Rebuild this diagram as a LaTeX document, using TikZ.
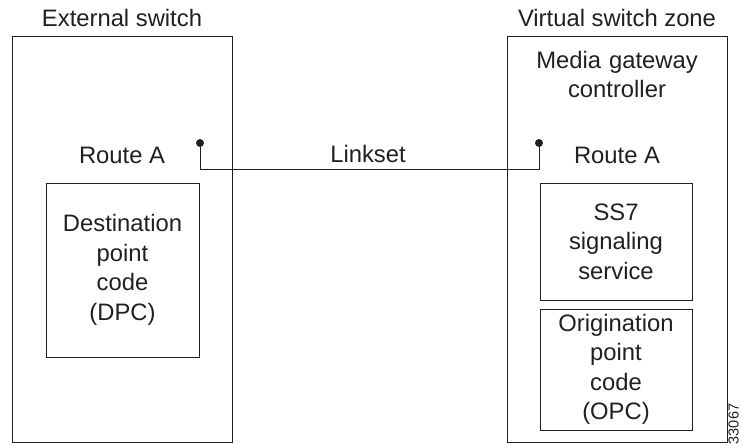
\documentclass[tikz,border=0pt]{standalone}
\usepackage{fontspec}
\setmainfont{Liberation Sans}
\definecolor{ink}{HTML}{231F20}
\begin{document}
\begin{tikzpicture}[x=1pt,y=-1pt,
  box/.style={draw=ink, line width=1pt, inner sep=0pt, outer sep=0pt},
  txt/.style={font=\fontsize{23.8}{29.5}\selectfont, text=ink, align=center},
  lbl/.style={txt, inner sep=0pt, anchor=base},
  pin/.style={circle, fill=ink, inner sep=0pt, minimum size=8pt}]
\useasboundingbox (0,0) rectangle (741,447);
% outer boxes
\node[box, minimum width=220pt, minimum height=406pt] (ext) at (122,239) {};
\node[box, minimum width=220pt, minimum height=406pt] (vsz) at (617,239) {};
% titles
\node[lbl] (extT) at (122,27) {External switch};
\node[lbl] (vszT) at (617,27) {Virtual switch zone};
\node[lbl, text width=200pt] (mgc) at (617,68) {Media gateway\\controller};
\node[lbl] (rtL) at (122,163) {Route A};
\node[lbl] (rtR) at (617,163) {Route A};
\node[lbl] (ls) at (368,162) {Linkset};
% inner boxes
\node[box, txt, minimum width=153pt, minimum height=174pt] (dpc) at (122.5,270) {Destination\\point\\code\\(DPC)};
\node[box, txt, minimum width=152pt, minimum height=117pt] (ss7) at (616,241.5) {SS7\\signaling\\service};
\node[box, txt, minimum width=152pt, minimum height=121pt] (opc) at (616,369.5) {Origination\\point\\code\\(OPC)};
% linkset
\node[pin] (dL) at (200,143) {};
\node[pin] (dR) at (539,143) {};
\draw[ink, line width=1pt] (dL.center) -- ++(0,26) coordinate (cL) -| (dR.center);
% figure number
\node[rotate=90, font=\fontsize{14.5}{14.5}\selectfont, text=ink, inner sep=0pt] (num) at (733.5,424) {33067};
\end{tikzpicture}
\end{document}
